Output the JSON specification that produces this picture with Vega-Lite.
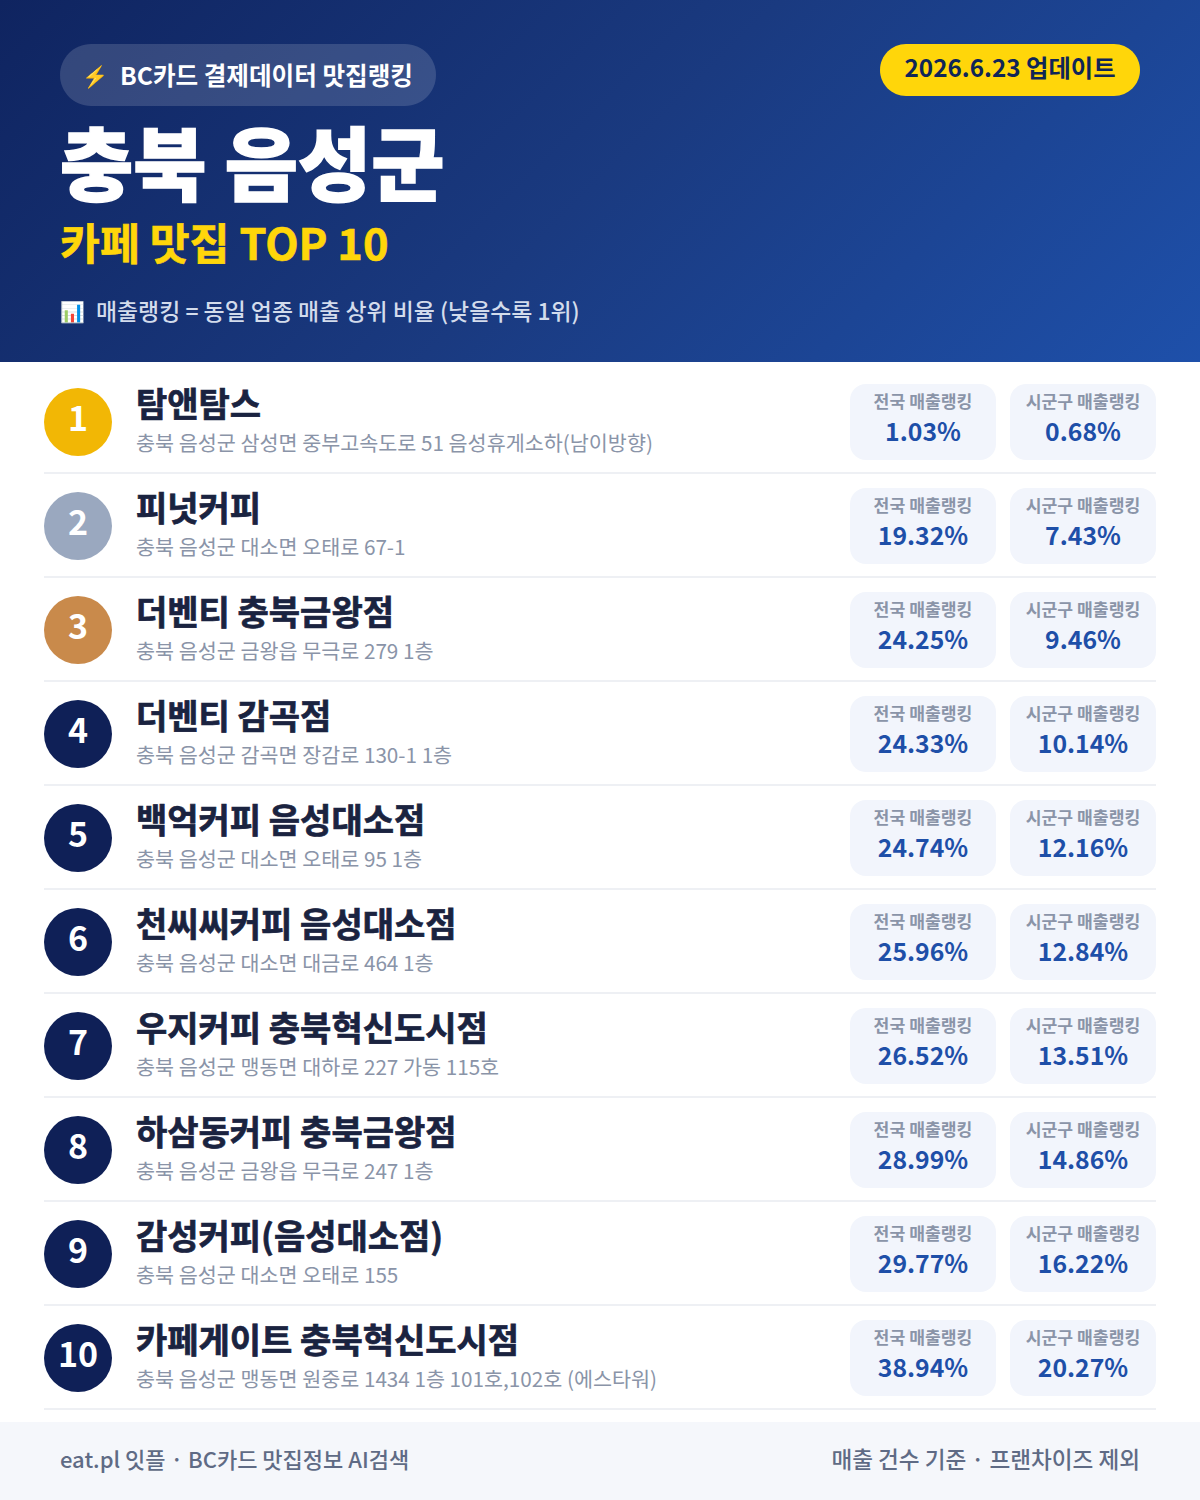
{
  "$schema": "https://vega.github.io/schema/vega-lite/v6.json",
  "autosize": {"type": "fit", "contains": "padding"},
  "width": 1200,
  "height": 1500,
  "padding": 0,
  "background": "#ffffff",
  "view": {"stroke": null},
  "config": {"text": {"font": "Noto Sans CJK KR"}},
  "layer": [
    {
      "data": {"values": [{}]},
      "mark": {
        "type": "rect",
        "x": 0, "x2": 1200, "y": 0, "y2": 362,
        "fill": {
          "gradient": "linear", "x1": 0, "y1": 0, "x2": 1.194, "y2": 0.36,
          "stops": [
            {"offset": 0, "color": "#0f2460"},
            {"offset": 0.5, "color": "#1a3a80"},
            {"offset": 1, "color": "#1e50aa"}
          ]
        }
      }
    },
    {
      "data": {"values": [{}]},
      "mark": {"type": "rect", "x": 60, "x2": 436, "y": 44, "y2": 106, "cornerRadius": 31, "fill": "#ffffff", "fillOpacity": 0.15}
    },
    {
      "data": {"values": [{}]},
      "mark": {"type": "text", "text": "⚡", "x": 95, "y": 78, "align": "center", "baseline": "middle", "fontSize": 21, "fill": "#ffc61a"}
    },
    {
      "data": {"values": [{}]},
      "mark": {"type": "text", "text": "BC카드 결제데이터 맛집랭킹", "x": 120, "y": 78, "align": "left", "baseline": "middle", "fontSize": 24.6, "fontWeight": 700, "fill": "#ffffff"}
    },
    {
      "data": {"values": [{}]},
      "mark": {"type": "text", "text": "충북 음성군", "x": 60, "y": 170, "align": "left", "baseline": "middle", "fontSize": 79.6, "fontWeight": 900, "fill": "#ffffff", "stroke": "#ffffff", "strokeWidth": 1.5}
    },
    {
      "data": {"values": [{}]},
      "mark": {"type": "text", "text": "카페 맛집 TOP 10", "x": 60, "y": 247, "align": "left", "baseline": "middle", "fontSize": 43.4, "fontWeight": 700, "fill": "#ffd60a", "stroke": "#ffd60a", "strokeWidth": 0.6}
    },
    {
      "data": {"values": [{}]},
      "mark": {"type": "text", "text": "📊", "x": 72, "y": 313, "align": "center", "baseline": "middle", "fontSize": 20, "fill": "#ffffff"}
    },
    {
      "data": {"values": [{}]},
      "mark": {"type": "text", "text": "매출랭킹 = 동일 업종 매출 상위 비율 (낮을수록 1위)", "x": 96, "y": 313, "align": "left", "baseline": "middle", "fontSize": 22.9, "fontWeight": 500, "fill": "#d3dcec"}
    },
    {
      "data": {"values": [{}]},
      "mark": {"type": "rect", "x": 880, "x2": 1140, "y": 44, "y2": 96, "cornerRadius": 26, "fill": "#ffd60a"}
    },
    {
      "data": {"values": [{}]},
      "mark": {"type": "text", "text": "2026.6.23 업데이트", "x": 1010, "y": 70, "align": "center", "baseline": "middle", "fontSize": 24.3, "fontWeight": 700, "fill": "#0f2557"}
    },
    {
      "data": {"values": [{}]},
      "mark": {"type": "rect", "x": 0, "x2": 1200, "y": 1422, "y2": 1500, "fill": "#f5f7fb"}
    },
    {
      "data": {"values": [{}]},
      "mark": {"type": "text", "text": "eat.pl 잇플 · BC카드 맛집정보 AI검색", "x": 60, "y": 1461, "align": "left", "baseline": "middle", "fontSize": 22, "fontWeight": 500, "fill": "#5f6b85"}
    },
    {
      "data": {"values": [{}]},
      "mark": {"type": "text", "text": "매출 건수 기준 · 프랜차이즈 제외", "x": 1140, "y": 1461, "align": "right", "baseline": "middle", "fontSize": 22.6, "fontWeight": 500, "fill": "#5f6b85"}
    },
    {
      "data": {
        "values": [
          {"rank": 1, "name": "탐앤탐스", "address": "충북 음성군 삼성면 중부고속도로 51 음성휴게소하(남이방향)", "national": 0.0103, "local": 0.0068},
          {"rank": 2, "name": "피넛커피", "address": "충북 음성군 대소면 오태로 67-1", "national": 0.1932, "local": 0.0743},
          {"rank": 3, "name": "더벤티 충북금왕점", "address": "충북 음성군 금왕읍 무극로 279 1층", "national": 0.2425, "local": 0.0946},
          {"rank": 4, "name": "더벤티 감곡점", "address": "충북 음성군 감곡면 장감로 130-1 1층", "national": 0.2433, "local": 0.1014},
          {"rank": 5, "name": "백억커피 음성대소점", "address": "충북 음성군 대소면 오태로 95 1층", "national": 0.2474, "local": 0.1216},
          {"rank": 6, "name": "천씨씨커피 음성대소점", "address": "충북 음성군 대소면 대금로 464 1층", "national": 0.2596, "local": 0.1284},
          {"rank": 7, "name": "우지커피 충북혁신도시점", "address": "충북 음성군 맹동면 대하로 227 가동 115호", "national": 0.2652, "local": 0.1351},
          {"rank": 8, "name": "하삼동커피 충북금왕점", "address": "충북 음성군 금왕읍 무극로 247 1층", "national": 0.2899, "local": 0.1486},
          {"rank": 9, "name": "감성커피(음성대소점)", "address": "충북 음성군 대소면 오태로 155", "national": 0.2977, "local": 0.1622},
          {"rank": 10, "name": "카페게이트 충북혁신도시점", "address": "충북 음성군 맹동면 원중로 1434 1층 101호,102호 (에스타워)", "national": 0.3894, "local": 0.2027}
        ]
      },
      "encoding": {
        "y": {
          "field": "rank",
          "type": "quantitative",
          "axis": null,
          "scale": {"domain": [-3.0577, 11.3654], "range": [0, 1500], "nice": false, "zero": false}
        }
      },
      "layer": [
        {"mark": {"type": "rule", "x": 44, "x2": 1156, "yOffset": 51, "stroke": "#eef0f4", "strokeWidth": 2}},
        {
          "mark": {"type": "point", "x": 78, "filled": true, "opacity": 1, "shape": "circle", "size": 4624},
          "encoding": {
            "color": {
              "field": "rank",
              "type": "ordinal",
              "legend": null,
              "scale": {
                "domain": [1, 2, 3, 4, 5, 6, 7, 8, 9, 10],
                "range": ["#f2b705", "#9aa8bf", "#c98a4b", "#0f2057", "#0f2057", "#0f2057", "#0f2057", "#0f2057", "#0f2057", "#0f2057"]
              }
            }
          }
        },
        {
          "mark": {"type": "text", "x": 78, "yOffset": -1, "align": "center", "baseline": "middle", "fontSize": 34, "fontWeight": 700, "fill": "#ffffff"},
          "encoding": {"text": {"field": "rank", "type": "quantitative"}}
        },
        {
          "mark": {"type": "text", "x": 136, "yOffset": -15, "align": "left", "baseline": "middle", "fontSize": 34, "fontWeight": 700, "fill": "#1a2340", "stroke": "#1a2340", "strokeWidth": 0.7},
          "encoding": {"text": {"field": "name"}}
        },
        {
          "mark": {"type": "text", "x": 136, "yOffset": 23, "align": "left", "baseline": "middle", "fontSize": 20.7, "fill": "#8a94a8"},
          "encoding": {"text": {"field": "address"}}
        },
        {"mark": {"type": "rect", "x": 850, "x2": 996, "height": 76, "cornerRadius": 16, "fill": "#f2f5fc"}},
        {"mark": {"type": "rect", "x": 1010, "x2": 1156, "height": 76, "cornerRadius": 16, "fill": "#f2f5fc"}},
        {
          "mark": {"type": "text", "text": "전국 매출랭킹", "x": 923, "yOffset": -19, "align": "center", "baseline": "middle", "fontSize": 17.2, "fontWeight": 600, "fill": "#8a94a8"}
        },
        {
          "mark": {"type": "text", "text": "시군구 매출랭킹", "x": 1083, "yOffset": -19, "align": "center", "baseline": "middle", "fontSize": 17.2, "fontWeight": 600, "fill": "#8a94a8"}
        },
        {
          "mark": {"type": "text", "x": 923, "yOffset": 12, "align": "center", "baseline": "middle", "fontSize": 24.8, "fontWeight": 700, "fill": "#1e4fa8"},
          "encoding": {"text": {"field": "national", "type": "quantitative", "format": ".2%"}}
        },
        {
          "mark": {"type": "text", "x": 1083, "yOffset": 12, "align": "center", "baseline": "middle", "fontSize": 24.8, "fontWeight": 700, "fill": "#1e4fa8"},
          "encoding": {"text": {"field": "local", "type": "quantitative", "format": ".2%"}}
        }
      ]
    }
  ]
}
